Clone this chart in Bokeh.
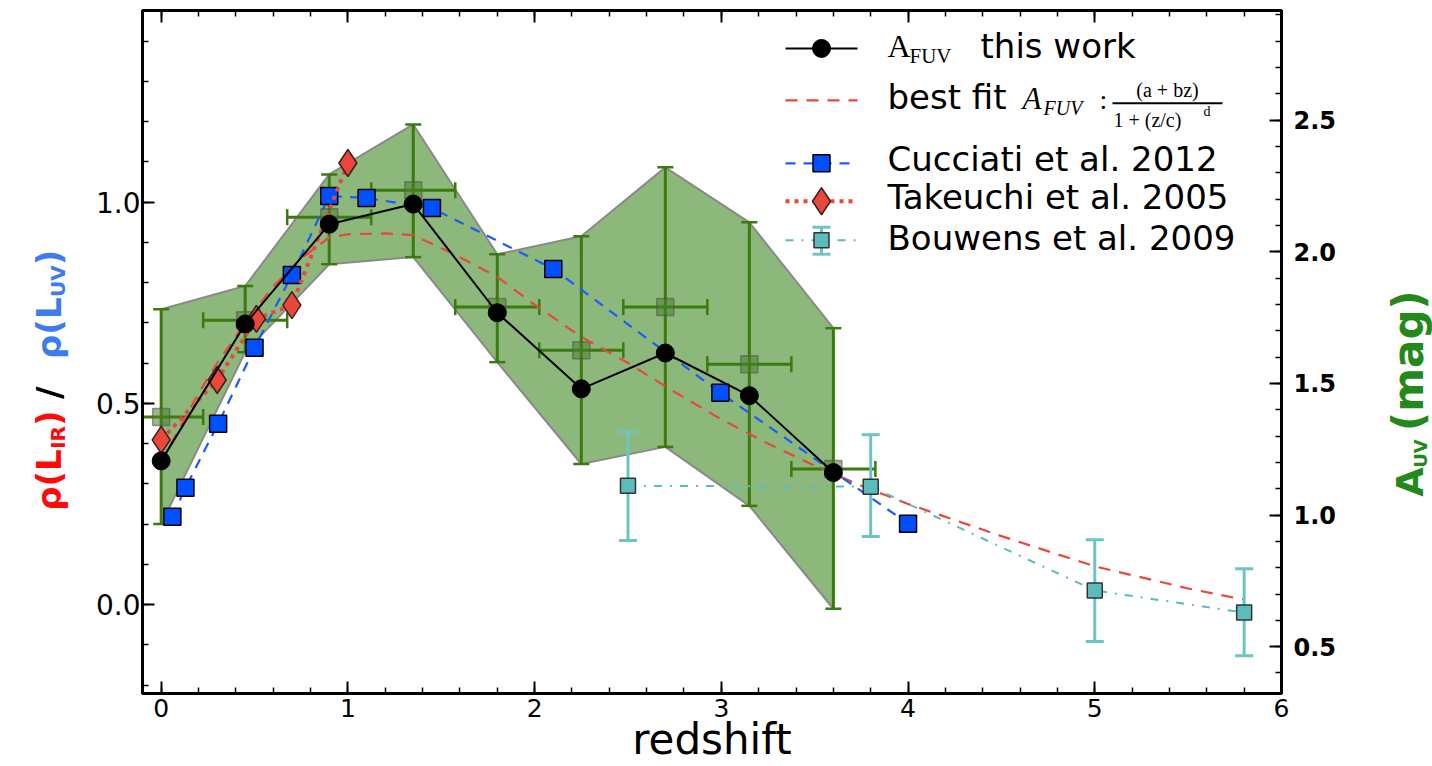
import numpy as np
from bokeh.plotting import figure
from bokeh.layouts import row
from bokeh.models import Range1d, LinearAxis, SingleIntervalTicker, PrintfTickFormatter, Label
from bokeh.core.properties import value
from bokeh.embed import file_html
from bokeh.resources import INLINE

# ---------------- data ----------------
this_z = [0.0, 0.45, 0.9, 1.35, 1.8, 2.25, 2.7, 3.15, 3.6]
this_ratio = [0.357, 0.697, 0.945, 0.995, 0.725, 0.536, 0.625, 0.519, 0.328]

auv_z = [0.0, 0.45, 0.9, 1.35, 1.8, 2.25, 2.7, 3.15, 3.6]
auv_zerr = [0.225, 0.225, 0.225, 0.225, 0.225, 0.225, 0.225, 0.225, 0.225]
auv_mag = [1.373, 1.740, 2.131, 2.234, 1.790, 1.626, 1.790, 1.573, 1.175]
auv_hi = [1.782, 1.870, 2.294, 2.484, 1.991, 2.059, 2.321, 2.112, 1.710]
auv_lo = [0.966, 1.619, 1.953, 1.980, 1.581, 1.194, 1.259, 1.035, 0.644]

fit_z = [0.0, 0.1, 0.2, 0.3, 0.45, 0.6, 0.75, 0.9, 1.0, 1.2, 1.35, 1.55, 1.8, 2.0,
         2.25, 2.5, 2.75, 3.0, 3.25, 3.5, 3.75, 4.0, 4.5, 5.0, 5.5, 5.8]
fit_ratio = [0.352, 0.44, 0.525, 0.60, 0.70, 0.79, 0.86, 0.912, 0.92, 0.922, 0.918, 0.875,
             0.814, 0.745, 0.665, 0.60, 0.528, 0.46, 0.40, 0.345, 0.295, 0.25, 0.17,
             0.095, 0.04, 0.012]

cuc_z = [0.06, 0.13, 0.305, 0.5, 0.7, 0.9, 1.1, 1.45, 2.1, 2.995, 4.0]
cuc_ratio = [0.218, 0.29, 0.449, 0.638, 0.819, 1.015, 1.010, 0.985, 0.834, 0.526, 0.201]

tak_z = [0.0, 0.3, 0.51, 0.70, 1.0]
tak_ratio = [0.409, 0.558, 0.71, 0.744, 1.097]

bou_z = [2.5, 3.8, 5.0, 5.8]
bou_ratio = [0.295, 0.293, 0.035, -0.02]
bou_hi = [0.429, 0.422, 0.161, 0.089]
bou_lo = [0.159, 0.169, -0.092, -0.127]

# ---------------- page layout (pixels) ----------------
W, H = 1432, 766
LEFT_W = 80           # strip holding the left title
RIGHT_X = 1360        # strip holding the right title starts here
FL, FR, FT, FB = 142.0, 1281.0, 10.0, 694.0   # plot frame

X_RANGE = (-0.1, 6.0)
Y_RANGE = (-0.221, 1.476)
AUV_RANGE = (0.322, 2.917)

p = figure(width=RIGHT_X - LEFT_W, height=H, output_backend="svg", toolbar_location=None,
           x_range=Range1d(*X_RANGE), y_range=Range1d(*Y_RANGE),
           min_border_left=int(FL - LEFT_W), min_border_right=int(RIGHT_X - FR),
           min_border_top=int(FT), min_border_bottom=int(H - FB),
           background_fill_color="white", border_fill_color="white")
p.extra_y_ranges = {"auv": Range1d(*AUV_RANGE)}
p.xgrid.visible = False
p.ygrid.visible = False
p.outline_line_color = "black"
p.outline_line_width = 3

def dx(px):
    return X_RANGE[0] + (px - FL) / (FR - FL) * (X_RANGE[1] - X_RANGE[0])
def dy(py):
    return Y_RANGE[1] - (py - FT) / (FB - FT) * (Y_RANGE[1] - Y_RANGE[0])

def style_axis(ax, label_size="24px", bold=False):
    ax.axis_line_color = "black"
    ax.axis_line_width = 3
    ax.major_tick_in = 12
    ax.major_tick_out = 0
    ax.minor_tick_in = 6
    ax.minor_tick_out = 0
    ax.major_tick_line_width = 2
    ax.minor_tick_line_width = 1.5
    ax.major_tick_line_color = "black"
    ax.minor_tick_line_color = "black"
    ax.major_label_text_font = "DejaVu Sans"
    ax.major_label_text_font_size = label_size
    ax.major_label_text_color = "black"
    if bold:
        ax.major_label_text_font_style = "bold"

xa = p.xaxis[0]
xa.ticker = SingleIntervalTicker(interval=1, num_minor_ticks=5)
xa.formatter = PrintfTickFormatter(format="%d")
style_axis(xa, "25px")
xa.major_label_standoff = 5
xa.axis_label = "redshift"
xa.axis_label_text_font = "DejaVu Sans"
xa.axis_label_text_font_size = "42px"
xa.axis_label_text_font_style = "normal"
xa.axis_label_text_color = "black"
xa.axis_label_standoff = -5

ya = p.yaxis[0]
ya.ticker = SingleIntervalTicker(interval=0.5, num_minor_ticks=5)
ya.formatter = PrintfTickFormatter(format="%.1f")
style_axis(ya, "28px")
ya.major_label_standoff = 2

ra = LinearAxis(y_range_name="auv",
                ticker=SingleIntervalTicker(interval=0.5, num_minor_ticks=5),
                formatter=PrintfTickFormatter(format="%.1f"))
style_axis(ra, "24px", bold=True)
ra.major_label_standoff = 12
p.add_layout(ra, "right")

ta = LinearAxis(ticker=SingleIntervalTicker(interval=1, num_minor_ticks=5))
style_axis(ta, "0px")
ta.major_label_standoff = 0
ta.major_label_text_color = None
p.add_layout(ta, "above")

# ---------------- green band (A_UV, right axis) ----------------
GREEN = "#3b7a0c"
p.patch(auv_z + auv_z[::-1], auv_hi + auv_lo[::-1], y_range_name="auv",
        fill_color="#8db87b", line_color="#8a8a8a", line_width=2)

z = np.array(auv_z)
ze = np.array(auv_zerr)
p.segment(x0=auv_z, y0=auv_lo, x1=auv_z, y1=auv_hi, y_range_name="auv",
          line_color=GREEN, line_width=3)
p.segment(x0=list(z - ze), y0=auv_mag, x1=list(z + ze), y1=auv_mag, y_range_name="auv",
          line_color=GREEN, line_width=3)
p.scatter(auv_z + auv_z, auv_hi + auv_lo, y_range_name="auv", marker="dash",
          size=16, line_color=GREEN, line_width=2.5)
p.scatter(list(z - ze) + list(z + ze), auv_mag + auv_mag, y_range_name="auv",
          marker="dash", angle=np.pi / 2, size=16, line_color=GREEN, line_width=2.5)
p.scatter(auv_z, auv_mag, y_range_name="auv", marker="square", size=17,
          fill_color="#4a7f2a", fill_alpha=0.55, line_color="#555555", line_alpha=0.6,
          line_width=1.5)

# ---------------- other series ----------------
RED = "#e8473a"
BLUE = "#0050ff"
CYAN = "#5bbcbc"

p.line(fit_z, fit_ratio, line_color=RED, line_width=2.2, line_dash="12 9")

p.line(cuc_z, cuc_ratio, line_color="#1a5cff", line_width=2.2, line_dash="10 8")
p.scatter(cuc_z, cuc_ratio, marker="square", size=17, fill_color=BLUE,
          line_color="black", line_width=1.5)

p.line(tak_z, tak_ratio, line_color=RED, line_width=4, line_dash="4 5")
p.scatter(tak_z, tak_ratio, marker="diamond", size=27, fill_color=RED,
          line_color="#3a2020", line_width=1.5)

p.line(bou_z, bou_ratio, line_color=CYAN, line_width=2, line_dash="8 8 2 8")
p.segment(x0=bou_z, y0=bou_lo, x1=bou_z, y1=bou_hi, line_color="#6cc4c4", line_width=3)
p.scatter(bou_z + bou_z, bou_hi + bou_lo, marker="dash", size=18,
          line_color="#6cc4c4", line_width=3)
p.scatter(bou_z, bou_ratio, marker="square", size=15, fill_color=CYAN,
          line_color="#333333", line_width=1.5)

p.line(this_z, this_ratio, line_color="black", line_width=2)
p.scatter(this_z, this_ratio, marker="circle", size=18, fill_color="black",
          line_color="black")

# ---------------- manual legend ----------------
LX0, LX1, LXM, TX = 785, 857, 821, 887
rows = [48, 100, 163, 201, 240]
p.line([dx(LX0), dx(LX1)], [dy(rows[0])] * 2, line_color="black", line_width=2)
p.scatter([dx(LXM)], [dy(rows[0])], marker="circle", size=18, fill_color="black",
          line_color="black")
p.line([dx(LX0), dx(LX1)], [dy(rows[1])] * 2, line_color=RED, line_width=2.2,
       line_dash="12 9")
p.line([dx(LX0), dx(LX1)], [dy(rows[2])] * 2, line_color="#1a5cff", line_width=2.2,
       line_dash="10 8")
p.scatter([dx(LXM)], [dy(rows[2])], marker="square", size=17, fill_color=BLUE,
          line_color="black", line_width=1.5)
p.line([dx(LX0), dx(LX1)], [dy(rows[3])] * 2, line_color=RED, line_width=4,
       line_dash="4 5")
p.scatter([dx(LXM)], [dy(rows[3])], marker="diamond", size=27, fill_color=RED,
          line_color="#3a2020", line_width=1.5)
p.line([dx(LX0), dx(LX1)], [dy(rows[4])] * 2, line_color=CYAN, line_width=2,
       line_dash="8 8 2 8")
p.segment(x0=[dx(LXM)], y0=[dy(rows[4] - 13)], x1=[dx(LXM)], y1=[dy(rows[4] + 14)],
          line_color="#6cc4c4", line_width=3)
p.scatter([dx(LXM), dx(LXM)], [dy(rows[4] - 13), dy(rows[4] + 14)], marker="dash",
          size=18, line_color="#6cc4c4", line_width=3)
p.scatter([dx(LXM)], [dy(rows[4])], marker="square", size=15, fill_color=CYAN,
          line_color="#333333", line_width=1.5)

MID = 0.35  # anchors sit at the text's middle; shift from baseline

def lab(px, py, text, size, font="DejaVu Sans", style="normal", color="black",
        align="left"):
    """horizontal label inside the frame; (px, py) = baseline start in pixels"""
    p.add_layout(Label(x=dx(px), y=dy(py - MID * size), text=text, text_font=font,
                       text_font_size=f"{size}px", text_font_style=style,
                       text_color=color, text_align=align, text_baseline="middle"))

SERIF = "Liberation Serif"
lab(TX, 57, "A", 32, SERIF)
lab(TX + 22, 63, "FUV", 21, SERIF)
lab(980, 57, "this work", 34)
lab(TX, 109, "best fit", 34)
lab(1022, 109, "A", 31, SERIF, "italic")
lab(1043, 115, "FUV", 20, SERIF, "italic")
lab(1099, 109, ":", 28, SERIF)
lab(1167, 97, "(a + bz)", 20, SERIF, align="center")
p.segment(x0=[dx(1112)], y0=[dy(103)], x1=[dx(1222)], y1=[dy(103)], line_color="black",
          line_width=2)
lab(1113, 127, "1 + (z/c)", 20, SERIF)
lab(1203, 116, "d", 14, SERIF)
lab(TX, 171, "Cucciati et al. 2012", 34)
lab(TX, 209, "Takeuchi et al. 2005", 34)
lab(TX, 250, "Bouwens et al. 2009", 34)

# ---------------- side strips with the rotated axis titles ----------------
# the row layout aligns every strip's frame with the main frame (FT..FB),
# so the strip's y range is chosen so that data y == H - page pixel y
def side_fig(w):
    f = figure(width=w, height=H, output_backend="svg", toolbar_location=None,
               x_range=Range1d(0, w), y_range=Range1d(H - FB, H - FT), x_axis_type=None,
               y_axis_type=None, min_border_left=0, min_border_right=0,
               min_border_top=int(FT), min_border_bottom=int(H - FB),
               background_fill_color="white", border_fill_color="white")
    f.outline_line_color = None
    f.grid.visible = False
    return f

def vtext(f, x_off, px, py, text, size, color):
    """rotated (bottom-to-top) bold text; (px, py) = baseline start, page pixels"""
    f.text(x=[px - x_off - MID * size], y=[H - py], text=[text], angle=np.pi / 2,
           text_font=value("DejaVu Sans"), text_font_size=value(f"{size}px"),
           text_font_style="bold", text_color=color, text_align="left",
           text_baseline="middle")

left = side_fig(LEFT_W)
red, blue = "#ff0a0a", "#3c7cf0"
vtext(left, 0, 60, 511, "ρ(L", 34, red)
vtext(left, 0, 64, 449, "IR", 20, red)
vtext(left, 0, 60, 426, ")", 34, red)
vtext(left, 0, 60, 399, "/", 34, "black")
vtext(left, 0, 60, 359, "ρ(L", 34, blue)
vtext(left, 0, 64, 297, "UV", 20, blue)
vtext(left, 0, 60, 265, ")", 34, blue)

right = side_fig(W - RIGHT_X)
gr = "#23891a"
vtext(right, RIGHT_X, 1423, 497, "A", 38, gr)
vtext(right, RIGHT_X, 1426, 468, "UV", 18, gr)
vtext(right, RIGHT_X, 1423, 431, "(mag)", 42, gr)

layout = row(left, p, right, spacing=0)
open("out.html", "w").write(file_html(layout, INLINE))
